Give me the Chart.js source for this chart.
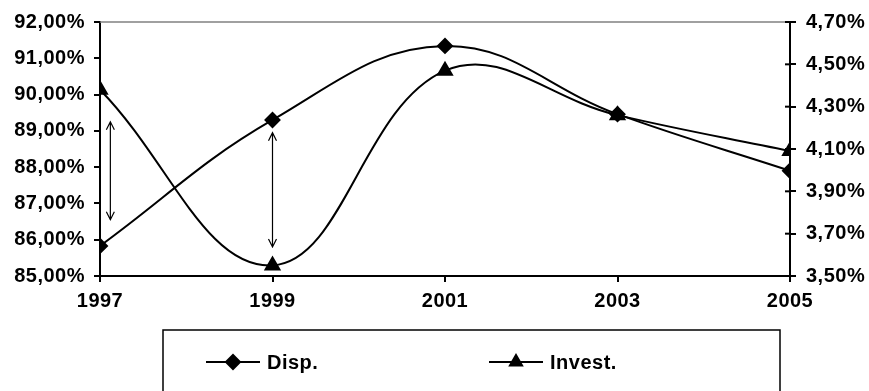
<!DOCTYPE html>
<html>
<head>
<meta charset="utf-8">
<script src="https://cdn.jsdelivr.net/npm/chart.js@4/dist/chart.umd.min.js"></script>
<style>
  html, body { margin: 0; padding: 0; background: #fff; }
  #wrap { width: 869px; height: 391px; position: relative; }
</style>
</head>
<body>
<div id="wrap"><canvas id="c" width="869" height="391"></canvas></div>
<script>
// Years on the horizontal axis
const years = [1997, 1999, 2001, 2003, 2005];
// Disp. (left axis, %)
const dispValues = [85.83, 89.30, 91.34, 89.46, 87.90];
// Invest. (right axis, %)
const investValues = [4.38, 3.55, 4.47, 4.26, 4.09];
// Series names
const seriesNames = ['Disp.', 'Invest.'];
// Double-headed arrows in left-axis units: [year, from, to]
const arrows = [
  [1997.12, 89.25, 86.55],
  [1999.0, 88.95, 85.80]
];

const FONT = { family: '"Liberation Sans", Arial, sans-serif', size: 20, weight: 'bold' };
const SPACING = '0.5px';
const fmt = v => v.toFixed(2).replace('.', ',') + '%';

const extras = {
  id: 'extras',
  beforeInit(chart) { chart.ctx.letterSpacing = SPACING; },
  beforeDraw(chart) { chart.ctx.letterSpacing = SPACING; },
  beforeDatasetsDraw(chart) {
    const { ctx, chartArea: a } = chart;
    ctx.save();
    ctx.strokeStyle = '#808080';
    ctx.lineWidth = 1.5;
    ctx.beginPath();
    ctx.moveTo(a.left, a.top);
    ctx.lineTo(a.right, a.top);
    ctx.stroke();
    // short inner halves of the right-axis ticks
    const yr = chart.scales.y1;
    ctx.strokeStyle = '#000';
    ctx.lineWidth = 2;
    yr.ticks.forEach(t => {
      const y = yr.getPixelForValue(t.value);
      ctx.beginPath();
      ctx.moveTo(a.right - 5, y);
      ctx.lineTo(a.right, y);
      ctx.stroke();
    });
    ctx.restore();
  },
  afterDatasetsDraw(chart) {
    const { ctx } = chart;
    const xs = chart.scales.x, yl = chart.scales.y;
    ctx.save();
    ctx.strokeStyle = '#000';
    ctx.lineWidth = 1.2;
    arrows.forEach(([yr, v1, v2]) => {
      const x = xs.getPixelForValue(yr);
      const y1 = yl.getPixelForValue(v1), y2 = yl.getPixelForValue(v2);
      ctx.beginPath();
      ctx.moveTo(x, y1); ctx.lineTo(x, y2);
      ctx.moveTo(x - 4, y1 + 8); ctx.lineTo(x, y1); ctx.lineTo(x + 4, y1 + 8);
      ctx.moveTo(x - 4, y2 - 8); ctx.lineTo(x, y2); ctx.lineTo(x + 4, y2 - 8);
      ctx.stroke();
    });
    ctx.restore();
  },
  afterDraw(chart) {
    // Legend box below the plot
    const { ctx } = chart;
    ctx.save();
    ctx.strokeStyle = '#000';
    ctx.lineWidth = 1.5;
    ctx.strokeRect(163, 330, 617, 80);
    const items = [
      { x: 206, style: 'rectRot', r: 7 },
      { x: 489, style: 'triangle', r: 7 }
    ];
    const cy = 362;
    ctx.font = `bold ${FONT.size}px ${FONT.family}`;
    ctx.letterSpacing = SPACING;
    ctx.textBaseline = 'middle';
    ctx.fillStyle = '#000';
    items.forEach((it, i) => {
      ctx.lineWidth = 2;
      ctx.beginPath();
      ctx.moveTo(it.x, cy); ctx.lineTo(it.x + 54, cy);
      ctx.stroke();
      Chart.helpers.drawPoint(ctx, { pointStyle: it.style, radius: it.r, borderWidth: 1 }, it.x + 27, cy);
      ctx.fill();
      ctx.fillText(seriesNames[i], it.x + 61, cy + 1);
    });
    ctx.restore();
  }
};

new Chart(document.getElementById('c'), {
  type: 'line',
  data: {
    datasets: [
      {
        label: seriesNames[0],
        data: years.map((y, i) => ({ x: y, y: dispValues[i] })),
        yAxisID: 'y',
        borderColor: '#000', backgroundColor: '#000', borderWidth: 2,
        pointStyle: 'rectRot', pointRadius: 7, tension: 0.4, fill: false
      },
      {
        label: seriesNames[1],
        data: years.map((y, i) => ({ x: y, y: investValues[i] })),
        yAxisID: 'y1',
        borderColor: '#000', backgroundColor: '#000', borderWidth: 2,
        pointStyle: 'triangle', pointRadius: 8, tension: 0.4, fill: false
      }
    ]
  },
  options: {
    responsive: false,
    animation: false,
    layout: { padding: { top: 22, left: 0, right: 0, bottom: 0 } },
    plugins: { legend: { display: false }, tooltip: { enabled: false } },
    scales: {
      x: {
        type: 'linear', min: 1997, max: 2005,
        afterFit(s) { s.height = 115; },
        ticks: { stepSize: 2, font: FONT, color: '#000', padding: 7, maxRotation: 0,
                 callback: v => String(v) },
        grid: { drawOnChartArea: false, drawTicks: true, tickLength: 6, color: '#000', lineWidth: 2 },
        border: { color: '#000', width: 2 }
      },
      y: {
        position: 'left', min: 85, max: 92,
        afterFit(s) { s.width = 100; },
        ticks: { stepSize: 1, font: FONT, color: '#000', padding: 9, callback: v => fmt(v) },
        grid: { drawOnChartArea: false, drawTicks: true, tickLength: 6, color: '#000', lineWidth: 2 },
        border: { color: '#000', width: 2 }
      },
      y1: {
        position: 'right', min: 3.5, max: 4.7,
        afterFit(s) { s.width = 79; },
        ticks: { stepSize: 0.2, font: FONT, color: '#000', padding: 10, callback: v => fmt(v) },
        grid: { drawOnChartArea: false, drawTicks: true, tickLength: 6, color: '#000', lineWidth: 2 },
        border: { color: '#000', width: 2 }
      }
    }
  },
  plugins: [extras]
});
</script>
</body>
</html>
